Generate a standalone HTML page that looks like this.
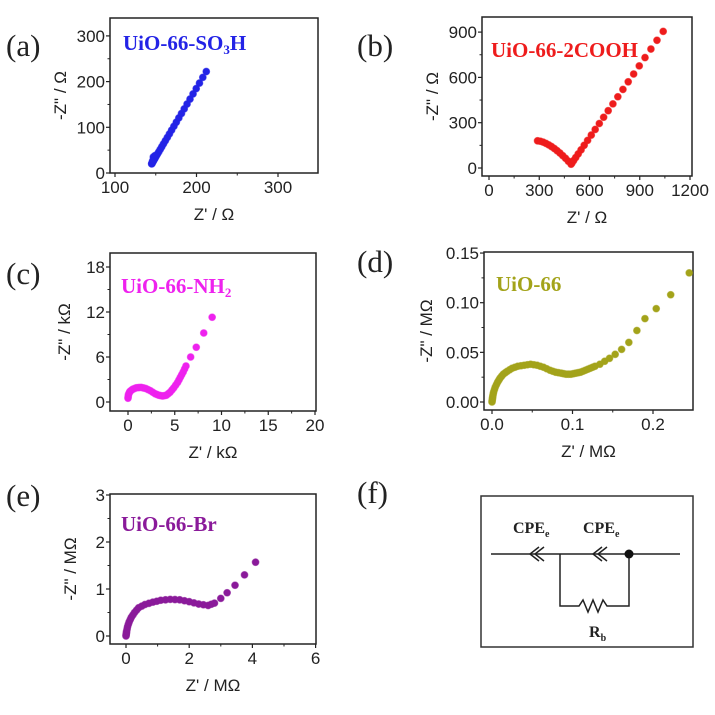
<!DOCTYPE html>
<html><head><meta charset="utf-8"><style>
html,body{margin:0;padding:0;background:#fff;}
svg{display:block;}
.t{font-family:"Liberation Sans",Arial,sans-serif;font-size:17px;fill:#222;}
.p{font-family:"Liberation Serif","Times New Roman",serif;font-size:31px;fill:#222;}
.s{font-family:"Liberation Serif","Times New Roman",serif;font-size:21px;font-weight:bold;}
.c{font-family:"Liberation Serif","Times New Roman",serif;font-size:16px;font-weight:bold;fill:#222;}
</style></head><body>
<svg id="g" width="715" height="715" viewBox="0 0 715 715" xmlns="http://www.w3.org/2000/svg">
<rect width="715" height="715" fill="#fff"/>
<text class="p" x="6" y="56">(a)</text>
<text class="p" x="357" y="56">(b)</text>
<text class="p" x="6" y="284">(c)</text>
<text class="p" x="357" y="272">(d)</text>
<text class="p" x="6" y="506">(e)</text>
<text class="p" x="357" y="503">(f)</text>

<rect x="481" y="496" width="212" height="151" fill="none" stroke="#333" stroke-width="1.5"/>
<line x1="491" y1="554" x2="680" y2="554" stroke="#222" stroke-width="1.5"/>
<polyline points="539,547 530,554 539,561" fill="none" stroke="#222" stroke-width="1.5"/>
<polyline points="544,547 535,554 544,561" fill="none" stroke="#222" stroke-width="1.5"/>
<polyline points="602,547 593,554 602,561" fill="none" stroke="#222" stroke-width="1.5"/>
<polyline points="607,547 598,554 607,561" fill="none" stroke="#222" stroke-width="1.5"/>
<polyline points="560,554 560,606 579,606 583,600 588,612 593,600 598,612 603,600 607,606 629,606 629,554" fill="none" stroke="#222" stroke-width="1.5"/>
<circle cx="629" cy="554" r="4.5" fill="#111"/>
<text class="c" x="513" y="533">CPE<tspan font-size="10" dy="4">e</tspan></text>
<text class="c" x="583" y="533">CPE<tspan font-size="10" dy="4">e</tspan></text>
<text class="c" x="589" y="637">R<tspan font-size="10" dy="4">b</tspan></text>
</svg>
<script>
const svg=document.getElementById('g');const NS='http://www.w3.org/2000/svg';
function el(n,a,txt){const e=document.createElementNS(NS,n);for(const k in a)e.setAttribute(k,a[k]);if(txt!==undefined)e.textContent=txt;svg.appendChild(e);return e;}
function panel(o){
 const X=v=>o.x0+(v-o.xv0)*o.sx, Y=v=>o.y0-(v-o.yv0)*o.sy;
 el('rect',{x:o.L,y:o.T,width:o.R-o.L,height:o.B-o.T,fill:'none',stroke:'#222','stroke-width':1.5});
 o.xt.forEach((v,i)=>{const x=X(v);el('line',{x1:x,y1:o.B,x2:x,y2:o.B+4,stroke:'#222','stroke-width':1.2});
  el('text',{class:'t',x:x,y:o.B+20,'text-anchor':'middle'},o.xl[i]);
  if(i<o.xt.length-1){const xm=(x+X(o.xt[i+1]))/2;if(xm<o.R)el('line',{x1:xm,y1:o.B,x2:xm,y2:o.B+2.5,stroke:'#222'});}});
 o.yt.forEach((v,i)=>{const y=Y(v);el('line',{x1:o.L,y1:y,x2:o.L-4,y2:y,stroke:'#222','stroke-width':1.2});
  el('text',{class:'t',x:o.L-5,y:y+6,'text-anchor':'end'},o.yl[i]);
  if(i<o.yt.length-1){const ym=(y+Y(o.yt[i+1]))/2;el('line',{x1:o.L,y1:ym,x2:o.L-2.5,y2:ym,stroke:'#222'});}});
 el('text',{class:'t','font-size':19,x:(o.L+o.R)/2,y:o.B+47,'text-anchor':'middle'},o.xlab);
 el('text',{class:'t','font-size':19,x:0,y:0,'text-anchor':'middle',transform:`translate(${o.ylx},${(o.T+o.B)/2}) rotate(-90)`},o.ylab);
 const t=el('text',{class:'s',x:o.lx,y:o.ly,fill:o.col},o.name);
 if(o.sub){const ts=document.createElementNS(NS,'tspan');ts.setAttribute('font-size','13');ts.setAttribute('dy','4');ts.textContent=o.sub;t.appendChild(ts);
  if(o.after){const t2=document.createElementNS(NS,'tspan');t2.setAttribute('dy','-4');t2.textContent=o.after;t.appendChild(t2);}}
 o.pts.forEach(p=>el('circle',{cx:X(p[0]),cy:Y(p[1]),r:3.4,fill:o.col,stroke:o.col,'stroke-opacity':0.6}));
}
function dens(p,n){const r=[];for(let i=0;i<p.length;i++){r.push(p[i]);if(i<n&&i<p.length-1)r.push([(p[i][0]+p[i+1][0])/2,(p[i][1]+p[i+1][1])/2]);}return r;}
let pa=[];for(let i=0;i<=28;i++){const u=Math.pow(i/28,1.8);pa.push([145+67*u,20+202*u]);}
pa.push([147,35],[148,30],[149,38],[146,26]);
panel({L:110,R:318,T:18,B:173,x0:115,xv0:100,sx:0.815,y0:173,yv0:0,sy:0.457,
 xt:[100,200,300],xl:['100','200','300'],yt:[0,100,200,300],yl:['0','100','200','300'],
 xlab:"Z' / Ω",ylab:'-Z" / Ω',ylx:66,name:'UiO-66-SO',sub:'3',after:'H',lx:123,ly:50,col:'#2323e6',pts:pa});
let pb=[];for(let i=0;i<=12;i++){const t=i/12;pb.push([290+200*t,25+155*(1-Math.pow(t,1.6))]);}
for(let i=1;i<=22;i++){const u=Math.pow(i/22,1.5);const x=490+550*u;pb.push([x,25+(x-490)*1.6]);}
panel({L:482,R:692,T:17,B:176,x0:489,xv0:0,sx:0.1675,y0:168,yv0:0,sy:0.151,
 xt:[0,300,600,900,1200],xl:['0','300','600','900','1200'],yt:[0,300,600,900],yl:['0','300','600','900'],
 xlab:"Z' / Ω",ylab:'-Z" / Ω',ylx:438,name:'UiO-66-2COOH',lx:491,ly:57,col:'#ee1c1c',pts:pb});
const pc=dens([[0,0.5],[0.05,1],[0.2,1.4],[0.5,1.7],[0.9,1.9],[1.4,1.95],[1.9,1.8],[2.4,1.5],[2.9,1.1],[3.3,0.9],[3.7,0.8],[4.1,0.9],[4.5,1.3],[4.9,1.9],[5.3,2.6],[5.6,3.3],[5.9,4],[6.2,4.8],[6.7,6],[7.3,7.3],[8.1,9.2],[9,11.3]],17);
panel({L:110,R:316,T:253,B:411,x0:128,xv0:0,sx:9.35,y0:402,yv0:0,sy:7.5,
 xt:[0,5,10,15,20],xl:['0','5','10','15','20'],yt:[0,6,12,18],yl:['0','6','12','18'],
 xlab:"Z' / kΩ",ylab:'-Z" / kΩ',ylx:70,name:'UiO-66-NH',sub:'2',lx:121,ly:293,col:'#ee22ee',pts:pc});
const pd=dens([[0,0],[0.0005,0.003],[0.001,0.006],[0.002,0.01],[0.004,0.015],[0.007,0.02],[0.01,0.024],[0.014,0.028],[0.019,0.031],[0.025,0.034],[0.032,0.036],[0.04,0.037],[0.048,0.038],[0.056,0.037],[0.064,0.035],[0.072,0.032],[0.079,0.030],[0.086,0.029],[0.092,0.028],[0.098,0.028],[0.104,0.029],[0.110,0.030],[0.116,0.032],[0.122,0.034],[0.128,0.036],[0.134,0.038],[0.140,0.041],[0.146,0.044],[0.153,0.048],[0.161,0.053],[0.170,0.060],[0.180,0.072],[0.190,0.084],[0.204,0.094],[0.222,0.108],[0.245,0.13]],24);
panel({L:484,R:693,T:252,B:410,x0:492,xv0:0,sx:805,y0:402,yv0:0,sy:993,
 xt:[0,0.1,0.2],xl:['0.0','0.1','0.2'],yt:[0,0.05,0.1,0.15],yl:['0.00','0.05','0.10','0.15'],
 xlab:"Z' / MΩ",ylab:'-Z" / MΩ',ylx:432,name:'UiO-66',lx:496,ly:291,col:'#a3a31a',pts:pd});
const pe=dens([[0,0],[0.01,0.05],[0.02,0.1],[0.05,0.2],[0.1,0.3],[0.17,0.4],[0.27,0.5],[0.4,0.6],[0.6,0.67],[0.85,0.72],[1.1,0.76],[1.4,0.78],[1.7,0.77],[2.0,0.73],[2.3,0.68],[2.6,0.65],[2.8,0.7],[3.0,0.8],[3.2,0.92],[3.45,1.08],[3.75,1.3],[4.1,1.57]],16);
panel({L:110,R:316,T:494,B:644,x0:126,xv0:0,sx:31.6,y0:636,yv0:0,sy:47,
 xt:[0,2,4,6],xl:['0','2','4','6'],yt:[0,1,2,3],yl:['0','1','2','3'],
 xlab:"Z' / MΩ",ylab:'-Z" / MΩ',ylx:76,name:'UiO-66-Br',lx:121,ly:531,col:'#8a1a9a',pts:pe});
</script>
</body></html>
